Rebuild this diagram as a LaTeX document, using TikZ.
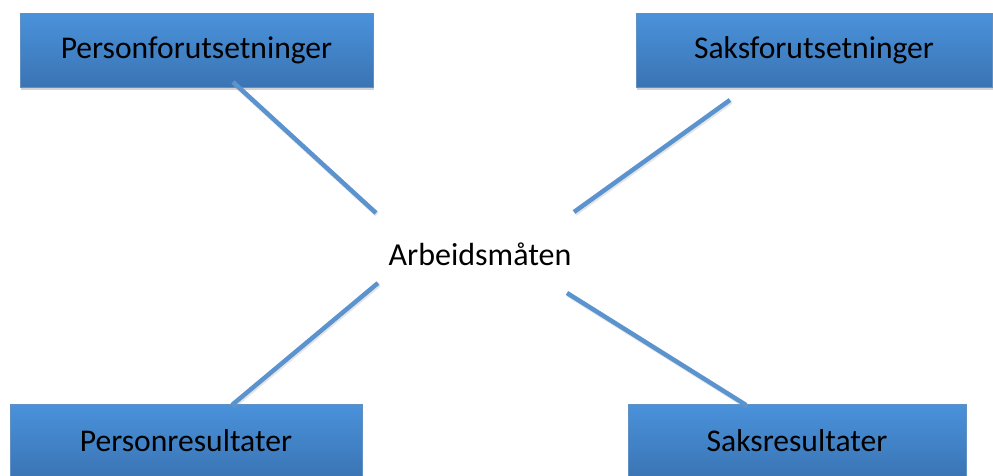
\documentclass[tikz,border=0pt]{standalone}
\usepackage{fontspec}
\setmainfont{Carlito}
\usetikzlibrary{shadows}
\definecolor{boxtop}{HTML}{4A92DB}
\definecolor{boxbot}{HTML}{3A74B4}
\definecolor{linecol}{HTML}{5B93CF}
\tikzset{
  box/.style={rectangle, minimum width=#1, minimum height=74pt, inner sep=0pt,
    top color=boxtop, bottom color=boxbot, draw=boxbot!80!white, line width=0.4pt,
    drop shadow={shadow xshift=1pt, shadow yshift=-3pt, opacity=0.35},
    font=\fontsize{31.6}{34}\selectfont, text=black},
  conn/.style={draw=linecol, line width=4.5pt,
    preaction={draw=black!40, opacity=0.25, line width=5pt, transform canvas={xshift=1pt,yshift=-1.5pt}}},
  lbl/.style={font=\fontsize{32}{34}\selectfont, text=black, inner sep=0pt}
}
\begin{document}
\begin{tikzpicture}[x=1pt,y=-1pt]
\useasboundingbox (0,0) rectangle (993,475);
\clip (0,0) rectangle (993,475);
\node[box=353pt] (pf) at (196.5,50) {Personforutsetninger};
\node[box=356pt] (sf) at (814,50) {Saksforutsetninger};
\node[box=352pt] (pr) at (186,441) {Personresultater};
\node[box=338pt] (sr) at (797,441) {Saksresultater};
\node[lbl] (am) at (480,254) {Arbeidsmåten};
\coordinate (a1) at (233,82);  \coordinate (a2) at (376,213);
\coordinate (b1) at (730,100); \coordinate (b2) at (574,212);
\coordinate (c1) at (378,283); \coordinate (c2) at (232,405);
\coordinate (d1) at (567,293); \coordinate (d2) at (746,405);
\draw[conn] (a1) -- (a2);
\draw[conn] (b1) -- (b2);
\draw[conn] (c1) -- (c2);
\draw[conn] (d1) -- (d2);
\end{tikzpicture}
\end{document}
